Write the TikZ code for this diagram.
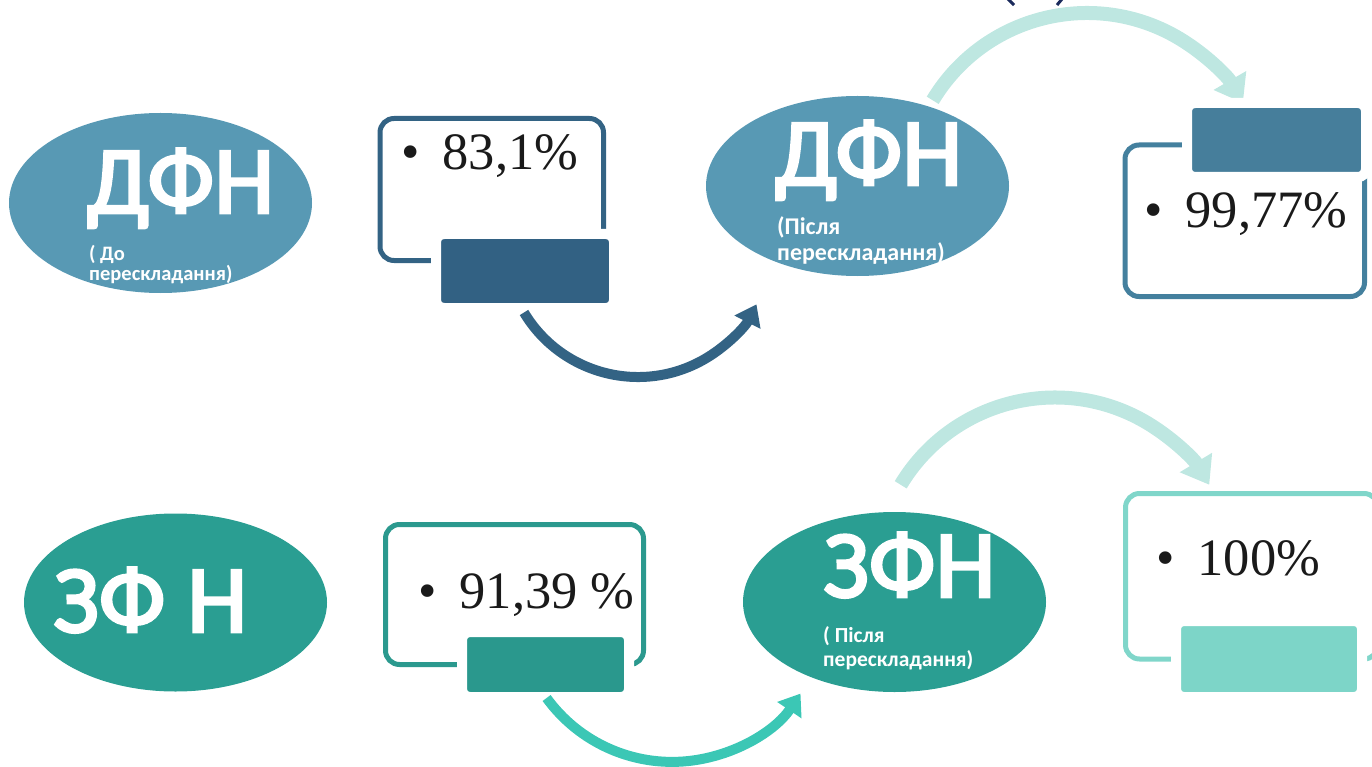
\documentclass[tikz,border=0pt]{standalone}
\usepackage{fontspec}
\setmainfont{Liberation Serif}
\newfontfamily\calib{Carlito}
\newfontfamily\calibsb[FakeBold=3]{Carlito}
\usetikzlibrary{shapes.geometric,arrows.meta}
\definecolor{ovalblue}{HTML}{5899B4}
\definecolor{ovalgreen}{HTML}{2A9E92}
\definecolor{dblue}{HTML}{336384}
\definecolor{dbluetab}{HTML}{326183}
\definecolor{mblue}{HTML}{44809E}
\definecolor{mbluetab}{HTML}{467E9B}
\definecolor{dgreen}{HTML}{2B998E}
\definecolor{dgreentab}{HTML}{2A988D}
\definecolor{lgreen}{HTML}{80D6CA}
\definecolor{lgreentab}{HTML}{7DD5C8}
\definecolor{paleteal}{HTML}{BEE7E1}
\definecolor{brightteal}{HTML}{3BC7B5}
\definecolor{navy}{HTML}{1B2A5C}
\definecolor{numtext}{HTML}{1A1A1A}
\begin{document}
\begin{tikzpicture}[x=1pt,y=1pt,
  oval/.style={ellipse, minimum width=303pt, minimum height=180pt, inner sep=0pt, draw=none},
  frame/.style={draw, line width=5pt, rounded corners=14pt, inner sep=0pt},
  tabbox/.style={draw=white, line width=10pt, rounded corners=8pt, inner sep=0pt},
  bignum/.style={font=\fontsize{52.5}{60}\selectfont, text=numtext, anchor=base west, inner sep=0pt},
  bigtxt/.style={font=\calibsb\fontsize{96}{96}\selectfont, text=white, anchor=base west, inner sep=0pt},
  subtxt/.style={text=white, anchor=base west, inner sep=0pt},
  darrow/.style={line width=10pt, -{Triangle[length=20pt,width=28pt]}},
  larrow/.style={draw=paleteal, line width=14pt, -{Triangle[length=26pt,width=36pt]}}
]
\useasboundingbox (0,0) rectangle (1372,-767);
\clip (0,0) rectangle (1372,-767);

% navy marks at the top edge
\draw[navy, line width=3pt] (1008,1) -- (1014,-5);
\draw[navy, line width=3pt] (1062,1) -- (1057,-5);

% ---------- top row ----------
\node[oval, fill=ovalblue] (e1) at (160.5,-203) {};
\node[bigtxt] (t1) at (87,-213) {ДФН};
\node[subtxt, font=\calib\bfseries\fontsize{20.5}{20}\selectfont] (t1a) at (89,-261) {( До};
\node[subtxt, font=\calib\bfseries\fontsize{20.5}{20}\selectfont] (t1b) at (89,-280) {перескладання)};

\node[frame, draw=dblue, minimum width=223.5pt, minimum height=142pt] (b1) at (491.75,-189.5) {};
\node[tabbox, fill=dbluetab, minimum width=178pt, minimum height=74pt] (tab1) at (525,-271) {};
\node[bignum] (n1) at (401,-170) {\textbullet\hspace{23pt}83,1\%};

\coordinate (a1s) at (524,-312.5);
\draw[darrow, draw=dblue] (a1s) arc[start angle=211, end angle=333, radius=133];

\node[oval, fill=ovalblue] (e2) at (857.5,-186) {};
\node[bigtxt] (t2) at (775,-185) {ДФН};
\node[subtxt, font=\calib\bfseries\fontsize{24}{24}\selectfont] (t2a) at (777,-235) {(Після};
\node[subtxt, font=\calib\bfseries\fontsize{24}{24}\selectfont] (t2b) at (777,-260) {перескладання)};

\coordinate (a2s) at (932.7,-100.3);
\draw[larrow] (a2s) arc[start angle=149, end angle=30, radius=180];

\node[frame, draw=mblue, minimum width=239.5pt, minimum height=151.5pt] (b2) at (1244.75,-220.75) {};
\node[tabbox, fill=mbluetab, minimum width=179pt, minimum height=74pt] (tab2) at (1276.5,-140) {};
\node[bignum] (n2) at (1144,-228) {\textbullet\hspace{23pt}99,77\%};

% ---------- bottom row ----------
\node[oval, fill=ovalgreen, minimum height=178pt] (e3) at (175.5,-602.5) {};
\node[bigtxt] (t3) at (53,-632) {ЗФ Н};

\node[frame, draw=dgreen, minimum width=258pt, minimum height=140pt] (b3) at (514.5,-594.5) {};
\node[tabbox, fill=dgreentab, minimum width=167pt, minimum height=65pt] (tab3) at (545.5,-664.5) {};
\node[bignum] (n3) at (418,-608) {\textbullet\hspace{23pt}91,39 \%};

\coordinate (a3s) at (546.6,-698);
\draw[darrow, draw=brightteal] (a3s) arc[start angle=216, end angle=326, radius=155];

\node[oval, fill=ovalgreen] (e4) at (894.5,-602) {};
\node[bigtxt] (t4) at (823,-597) {ЗФН};
\node[subtxt, font=\calib\bfseries\fontsize{21.5}{21}\selectfont] (t4a) at (823,-642) {( Після};
\node[subtxt, font=\calib\bfseries\fontsize{21.5}{21}\selectfont] (t4b) at (823,-666) {перескладання)};

\coordinate (a4s) at (900.7,-484.8);
\draw[larrow] (a4s) arc[start angle=149, end angle=31, radius=180];

\node[frame, draw=lgreen, minimum width=252.5pt, minimum height=165.5pt] (b4) at (1251.75,-576.25) {};
\node[tabbox, fill=lgreentab, minimum width=186pt, minimum height=76pt] (tab4) at (1269,-659) {};
\node[bignum] (n4) at (1156,-575) {\textbullet\hspace{23pt}100\%};
\end{tikzpicture}
\end{document}
